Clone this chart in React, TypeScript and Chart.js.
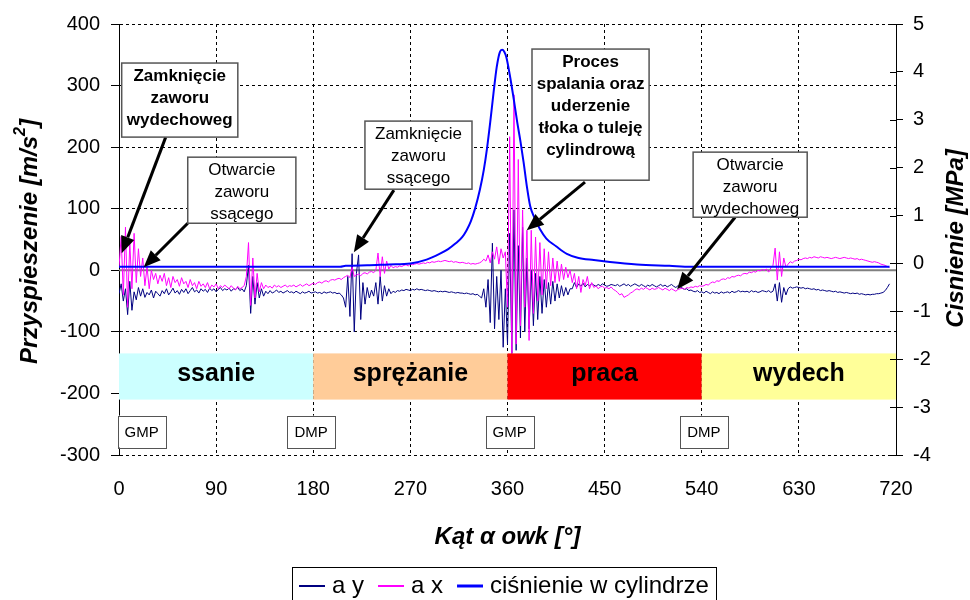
import React, { useEffect, useRef } from 'react';
import { Chart, registerables } from 'chart.js';

Chart.register(...registerables);

const FONT = "'Liberation Sans', Arial, Helvetica, sans-serif";

// ---------- data ----------
const ANGLE_STEP = 2; // degrees between samples of the acceleration series
const X_TICKS = [0, 90, 180, 270, 360, 450, 540, 630, 720];
const ACC_TICKS = [-300, -200, -100, 0, 100, 200, 300, 400];
const PRESS_TICKS = [-4, -3, -2, -1, 0, 1, 2, 3, 4, 5];

// a y [m/s2], samples from 0 deg every 2 deg
const AY_VALUES = [
  -38, -22, -50, -30, -72, -18, -65, -35, -48, -28,
  -42, -30, -44, -36, -40, -32, -45, -34, -38, -42,
  -33, -38, -30, -40, -35, -29, -37, -33, -39, -31,
  -36, -30, -38, -33, -28, -35, -32, -37, -30, -34,
  -31, -36, -29, -33, -30, -35, -31, -28, -33, -30,
  -32, -29, -34, -30, -31, -28, -33, -30, -35, -25,
  8, -70, -10, -55, -20, -45, -30, -42, -34, -38,
  -33, -37, -35, -32, -36, -34, -37, -35, -33, -36,
  -35, -37, -34, -36, -38, -35, -37, -36, -34, -37,
  -36, -35, -37, -36, -38, -35, -37, -36, -35, -37,
  -36, -38, -37, -40, -45, -60, -10, -75, 27, -100,
  -5, 25, -80, -20, -55, -28, -45, -32, -42, -20,
  -55, -10, -50, -25, -42, -30, -38, -34, -36, -33,
  -34, -32, -33, -31, -32, -33, -31, -32, -30, -32,
  -31, -32, -33, -32, -33, -34, -33, -34, -35, -34,
  -35, -34, -35, -36, -35, -36, -37, -36, -37, -37,
  -38, -37, -38, -39, -38, -40, -39, -42, -45, -30,
  -60, -15, -85, 44, -95, -10, -80, 0, -125, -30,
  -120, 60, -135, 98, -130, 40, -110, 70, -100, 20,
  -95, 0, -90, -5, -80, -10, -70, -15, -60, -20,
  -55, -18, -50, -22, -45, -25, -42, -28, -40, -30,
  -30, -20, -28, -22, -26, -21, -27, -23, -25, -22,
  -24, -26, -23, -25, -22, -24, -26, -25, -23, -24,
  -25, -23, -26, -24, -22, -25, -23, -26, -24, -22,
  -24, -26, -23, -25, -27, -24, -26, -23, -25, -27,
  -25, -23, -26, -24, -27, -25, -23, -26, -28, -25,
  -27, -29, -31, -30, -33, -32, -34, -35, -33, -36,
  -35, -37, -34, -36, -38, -35, -37, -36, -38, -35,
  -37, -36, -35, -37, -34, -36, -35, -33, -35, -34,
  -35, -34, -36, -33, -35, -34, -36, -35, -33, -34,
  -35, -33, -36, -34, -22, -50, -20, -52, -28, -40,
  -30, -27, -29, -28, -27, -28, -29, -28, -30, -29,
  -30, -31, -30, -32, -31, -33, -32, -33, -34, -33,
  -34, -35, -34, -36, -35, -36, -37, -36, -37, -38,
  -37, -38, -37, -39, -38, -39, -40, -39, -40, -39,
  -39, -38, -38, -37, -36, -33, -28, -22,
];

// a x [m/s2], samples from 0 deg every 2 deg
const AX_VALUES = [
  5, 55, -40, 70, -60, 45, -30, 60, -20, 35,
  -10, 20, -25, 5, -30, 0, -15, -5, -22, -8,
  -18, -5, -25, -12, -28, -10, -20, -15, -26, -12,
  -22, -18, -28, -15, -25, -20, -30, -18, -26, -22,
  -28, -20, -30, -24, -27, -22, -30, -25, -28, -24,
  -27, -30, -25, -29, -32, -26, -30, -28, -25, -10,
  45, -57, 20, -45, -5, -35, -20, -30, -24, -28,
  -26, -29, -24, -27, -25, -28, -26, -24, -27, -25,
  -26, -24, -27, -25, -23, -26, -24, -22, -25, -23,
  -21, -23, -20, -19, -21, -18, -17, -19, -16, -15,
  -16, -14, -13, -15, -12, -10, -8, -12, 5, -10,
  -8, -6, -9, -5, -4, -6, -3, -2, -4, 0,
  28, -10, 22, -5, 15, 2, 8, 4, 6, 5,
  7, 6, 8, 9, 7, 10, 9, 10, 11, 10,
  11, 12, 11, 13, 12, 14, 13, 14, 15, 14,
  15, 16, 15, 14, 15, 13, 14, 13, 12, 13,
  12, 11, 12, 10, 11, 10, 11, 12, 14, 18,
  15, 25, 12, 30, 18, 38, 10, 35, 20, 30,
  -60, 217, -135, 285, -120, 180, -90, 98, -60, 65,
  -114, 65, -70, 54, -50, 45, -40, 35, -30, 30,
  -25, 20, -20, 15, -18, 10, -15, 5, -12, 0,
  -20, -5, -30, -10, -36, -15, -25, -10, -30, -20,
  -28, -25, -30, -27, -26, -29, -28, -30, -27, -31,
  -33, -36, -40, -38, -44, -42, -40, -37, -35, -32,
  -30, -32, -29, -31, -28, -30, -32, -29, -31, -30,
  -28, -30, -32, -29, -31, -33, -30, -32, -34, -31,
  -30, -29, -31, -28, -29, -27, -28, -26, -27, -25,
  -26, -25, -23, -24, -21, -19, -20, -17, -18, -15,
  -14, -15, -12, -13, -10, -11, -9, -8, -9, -6,
  -5, -6, -3, -4, -2, -3, 0, -1, 1, 0,
  2, -3, 4, 8, 36, -16, 30, -10, 20, 5,
  10, 14, 12, 15, 16, 18, 17, 19, 20, 19,
  21, 20, 22, 21, 20, 22, 21, 20, 21, 20,
  19, 20, 21, 20, 19, 20, 21, 20, 19, 20,
  19, 18, 19, 17, 18, 17, 16, 15, 14, 13,
  14, 13, 12, 10, 9, 8, 6, 5,
];

// cylinder pressure [MPa]
const PRESSURE_ANGLES = [
  0, 100, 205, 210, 230, 250, 270, 285, 297, 305, 312, 318, 322, 326, 330, 334.5, 338, 341, 344, 347,
  350, 353, 355, 357, 359, 362, 366, 369, 372, 375, 378, 381, 385, 390, 396, 405, 415, 425, 440, 455,
  480, 510, 530, 600, 714,
];
const PRESSURE_VALUES = [
  -0.07, -0.07, -0.07, -0.05, -0.04, -0.02, 0.0, 0.08, 0.2, 0.3, 0.42, 0.55, 0.69, 0.88, 1.15, 1.55, 1.95, 2.4, 2.95, 3.55,
  4.1, 4.42, 4.46, 4.42, 4.3, 3.95, 3.4, 2.95, 2.55, 2.1, 1.6, 1.2, 0.95, 0.72, 0.52, 0.36, 0.2, 0.12, 0.07, 0.03,
  -0.02, -0.05, -0.07, -0.07, -0.07,
];

const SERIES_LABELS = ['a y', 'a x', 'ciśnienie w cylindrze'];

const PHASE_NAMES = ['ssanie', 'sprężanie', 'praca', 'wydech'];
const PHASE_BOUNDS = [0, 180, 360, 540, 720];

const DEAD_CENTRE_NAMES = ['GMP', 'DMP', 'GMP', 'DMP'];

const NOTE_TEXTS = [
  ['Zamknięcie', 'zaworu', 'wydechoweg'],
  ['Otwarcie', 'zaworu', 'ssącego'],
  ['Zamknięcie', 'zaworu', 'ssącego'],
  ['Proces', 'spalania oraz', 'uderzenie', 'tłoka o tuleję', 'cylindrową'],
  ['Otwarcie', 'zaworu', 'wydechoweg'],
];
// what each arrow points at (angle deg, acceleration m/s2)
const NOTE_TARGET_ANGLES = [2.5, 22.9, 217.6, 377.8, 517.2];
const NOTE_TARGET_VALUES = [27.6, 4.9, 29.3, 65, -30.9];

// ---------- styles / layout ----------
const SERIES_COLORS = ['#000080', '#FF00FF', '#0000FF'];
const SERIES_WIDTHS = [1, 1, 2];
const PHASE_COLORS = ['#CCFFFF', '#FFCC99', '#FF0000', '#FFFF99'];
const BAND_LAYOUT = { top: -135, bottom: -210 };
const DEAD_CENTRE_LAYOUT = { centers: [21, 178, 362, 542], width: 48, top: -236, bottom: -288 };
// boxes in data coordinates: [leftAngle, rightAngle, topValue, bottomValue, tailAngle, tailValue, bold]
const NOTE_LAYOUT = [
  [2.5, 110.1, 336.6, 216.3, 43.3, 216.3, true],
  [63.7, 163.9, 183.7, 76.4, 63.7, 76.4, false],
  [227.9, 327.1, 242.3, 131.7, 254.7, 130.1, false],
  [382.7, 491.2, 359.3, 146.3, 431.8, 143.1, true],
  [532.0, 637.7, 191.9, 86.2, 570.9, 86.2, false],
];

function drawArrow(ctx: CanvasRenderingContext2D, x1: number, y1: number, x2: number, y2: number) {
  const ang = Math.atan2(y2 - y1, x2 - x1);
  const head = 17;
  const half = 7;
  const bx = x2 - head * Math.cos(ang);
  const by = y2 - head * Math.sin(ang);
  ctx.strokeStyle = '#000';
  ctx.lineWidth = 3;
  ctx.beginPath();
  ctx.moveTo(x1, y1);
  ctx.lineTo(bx, by);
  ctx.stroke();
  ctx.fillStyle = '#000';
  ctx.beginPath();
  ctx.moveTo(x2, y2);
  ctx.lineTo(bx + half * Math.sin(ang), by - half * Math.cos(ang));
  ctx.lineTo(bx - half * Math.sin(ang), by + half * Math.cos(ang));
  ctx.closePath();
  ctx.fill();
}

const overlayPlugin = {
  id: 'overlay',
  beforeDatasetsDraw(chart: any) {
    const { ctx, chartArea, scales } = chart;
    const y0 = scales.y.getPixelForValue(0);
    ctx.save();
    ctx.strokeStyle = '#808080';
    ctx.lineWidth = 2;
    ctx.beginPath();
    ctx.moveTo(chartArea.left, y0);
    ctx.lineTo(chartArea.right, y0);
    ctx.stroke();
    ctx.restore();
  },
  afterDatasetsDraw(chart: any) {
    const { ctx, chartArea, scales } = chart;
    const px = (a: number) => scales.x.getPixelForValue(a);
    const py = (v: number) => scales.y.getPixelForValue(v);
    ctx.save();

    // phase bands
    const bt = py(BAND_LAYOUT.top);
    const bb = py(BAND_LAYOUT.bottom);
    PHASE_NAMES.forEach((name, i) => {
      const l = px(PHASE_BOUNDS[i]);
      const r = px(PHASE_BOUNDS[i + 1]);
      ctx.fillStyle = PHASE_COLORS[i];
      ctx.fillRect(l, bt, r - l, bb - bt);
      ctx.fillStyle = '#000';
      ctx.font = `bold 25px ${FONT}`;
      ctx.textAlign = 'center';
      ctx.textBaseline = 'middle';
      ctx.fillText(name, (l + r) / 2, (bt + bb) / 2 - 2);
    });

    // dead-centre boxes
    const dt = py(DEAD_CENTRE_LAYOUT.top);
    const db = py(DEAD_CENTRE_LAYOUT.bottom);
    DEAD_CENTRE_NAMES.forEach((name, i) => {
      const cx = px(DEAD_CENTRE_LAYOUT.centers[i]);
      const w = DEAD_CENTRE_LAYOUT.width;
      ctx.fillStyle = '#fff';
      ctx.fillRect(cx - w / 2, dt, w, db - dt);
      ctx.strokeStyle = '#555';
      ctx.lineWidth = 1;
      ctx.strokeRect(Math.round(cx - w / 2) + 0.5, Math.round(dt) + 0.5, w, Math.round(db - dt));
      ctx.fillStyle = '#000';
      ctx.font = `15px ${FONT}`;
      ctx.textAlign = 'center';
      ctx.textBaseline = 'middle';
      ctx.fillText(name, cx, (dt + db) / 2 + 1);
    });

    // annotations
    NOTE_TEXTS.forEach((lines, i) => {
      const [la, ra, tv, bv, ta, tv2, bold] = NOTE_LAYOUT[i] as any[];
      const l = px(la), r = px(ra), t = py(tv), b = py(bv);
      drawArrow(ctx, px(ta), py(tv2), px(NOTE_TARGET_ANGLES[i]), py(NOTE_TARGET_VALUES[i]));
      ctx.fillStyle = '#fff';
      ctx.fillRect(l, t, r - l, b - t);
      ctx.strokeStyle = '#555';
      ctx.lineWidth = 1.5;
      ctx.strokeRect(l, t, r - l, b - t);
      ctx.fillStyle = '#000';
      ctx.font = `${bold ? 'bold ' : ''}17px ${FONT}`;
      ctx.textAlign = 'center';
      ctx.textBaseline = 'middle';
      lines.forEach((line, k) => ctx.fillText(line, (l + r) / 2, t + 13 + k * 22));
    });
    ctx.restore();
  },
  afterDraw(chart: any) {
    const { ctx, chartArea, scales } = chart;
    ctx.save();
    // inner tick marks on right axis
    ctx.strokeStyle = '#000';
    ctx.lineWidth = 1;
    PRESS_TICKS.forEach((v) => {
      const y = Math.round(scales.y2.getPixelForValue(v)) + 0.5;
      ctx.beginPath();
      ctx.moveTo(chartArea.right - 6, y);
      ctx.lineTo(chartArea.right, y);
      ctx.stroke();
    });

    // left axis title with superscript
    ctx.fillStyle = '#000';
    ctx.textBaseline = 'middle';
    ctx.textAlign = 'left';
    const big = `italic bold 24px ${FONT}`;
    const small = `italic bold 16px ${FONT}`;
    const p1 = 'Przyspieszenie [m/s';
    const p2 = '2';
    const p3 = ']';
    ctx.font = big;
    const w1 = ctx.measureText(p1).width;
    const w3 = ctx.measureText(p3).width;
    ctx.font = small;
    const w2 = ctx.measureText(p2).width;
    const total = w1 + w2 + w3;
    ctx.save();
    ctx.translate(30, (chartArea.top + chartArea.bottom) / 2 + 2);
    ctx.rotate(-Math.PI / 2);
    let x = -total / 2;
    ctx.font = big;
    ctx.fillText(p1, x, 0);
    x += w1;
    ctx.font = small;
    ctx.fillText(p2, x, -9);
    x += w2;
    ctx.font = big;
    ctx.fillText(p3, x, 0);
    ctx.restore();

    // right axis title
    ctx.save();
    ctx.translate(956, (chartArea.top + chartArea.bottom) / 2 - 1);
    ctx.rotate(-Math.PI / 2);
    ctx.font = big;
    ctx.textAlign = 'center';
    ctx.fillText('Cisnienie [MPa]', 0, 0);
    ctx.restore();

    // legend
    const lineLen = 26, gap = 7, itemGap = 14, pad = 7;
    ctx.font = `24px ${FONT}`;
    const widths = SERIES_LABELS.map((s) => ctx.measureText(s).width);
    const inner = widths.reduce((a, w) => a + lineLen + gap + w, 0) + itemGap * (SERIES_LABELS.length - 1);
    const boxW = inner + pad * 2;
    const cx = (chartArea.left + chartArea.right) / 2 - 4;
    const left = Math.round(cx - boxW / 2);
    const top = 567;
    ctx.fillStyle = '#fff';
    ctx.fillRect(left, top, boxW, 40);
    ctx.strokeStyle = '#000';
    ctx.lineWidth = 1;
    ctx.strokeRect(left + 0.5, top + 0.5, Math.round(boxW), 40);
    let lx = left + pad;
    const ly = 586;
    SERIES_LABELS.forEach((s, i) => {
      ctx.strokeStyle = SERIES_COLORS[i];
      ctx.lineWidth = SERIES_WIDTHS[i] + 1;
      ctx.beginPath();
      ctx.moveTo(lx, ly);
      ctx.lineTo(lx + lineLen, ly);
      ctx.stroke();
      lx += lineLen + gap;
      ctx.fillStyle = '#000';
      ctx.textAlign = 'left';
      ctx.textBaseline = 'middle';
      ctx.fillText(s, lx, ly);
      lx += widths[i] + itemGap;
    });
    ctx.restore();
  },
};

export default function App() {
  const canvasRef = useRef<HTMLCanvasElement>(null);

  useEffect(() => {
    document.body.style.margin = '0';
    const canvas = canvasRef.current;
    if (!canvas) return;
    const accPoints = (vals: number[]) => vals.map((v, i) => ({ x: i * ANGLE_STEP, y: v }));
    const pressPoints = PRESSURE_ANGLES.map((a, i) => ({ x: a, y: PRESSURE_VALUES[i] }));
    const tickFont = { family: FONT, size: 20 };

    const chart = new Chart(canvas, {
      type: 'line',
      data: {
        datasets: [
          {
            label: SERIES_LABELS[0],
            data: accPoints(AY_VALUES),
            borderColor: SERIES_COLORS[0],
            borderWidth: SERIES_WIDTHS[0],
            pointRadius: 0,
            yAxisID: 'y',
            order: 2,
          },
          {
            label: SERIES_LABELS[1],
            data: accPoints(AX_VALUES),
            borderColor: SERIES_COLORS[1],
            borderWidth: SERIES_WIDTHS[1],
            pointRadius: 0,
            yAxisID: 'y',
            order: 1,
          },
          {
            label: SERIES_LABELS[2],
            data: pressPoints,
            borderColor: SERIES_COLORS[2],
            borderWidth: SERIES_WIDTHS[2],
            pointRadius: 0,
            yAxisID: 'y2',
            cubicInterpolationMode: 'monotone',
            order: 0,
          },
        ],
      },
      options: {
        animation: false,
        responsive: true,
        maintainAspectRatio: false,
        layout: { padding: { top: 24, bottom: 35, left: 0, right: 0 } },
        plugins: { legend: { display: false }, tooltip: { enabled: false } },
        scales: {
          x: {
            type: 'linear',
            position: 'bottom',
            min: 0,
            max: 720,
            afterBuildTicks: (s: any) => {
              s.ticks = X_TICKS.map((value) => ({ value }));
            },
            ticks: { color: '#000', font: tickFont, padding: 22, maxRotation: 0, autoSkip: false },
            grid: { color: '#000', lineWidth: 1, drawTicks: false },
            border: { display: false, dash: [3, 3] },
            title: {
              display: true,
              text: 'Kąt α owk [°]',
              color: '#000',
              font: { family: FONT, size: 24, style: 'italic', weight: 'bold' },
              padding: { top: 0, bottom: 13 },
            },
            afterFit: (s: any) => {
              s.height = 110;
            },
          },
          y: {
            type: 'linear',
            position: 'left',
            min: -300,
            max: 400,
            afterBuildTicks: (s: any) => {
              s.ticks = ACC_TICKS.map((value) => ({ value }));
            },
            ticks: { color: '#000', font: tickFont, padding: 11 },
            grid: { color: '#000', lineWidth: 1, tickLength: 8, tickColor: '#000', tickBorderDash: [] },
            border: { display: true, color: '#000', width: 1, dash: [3, 3] },
            afterFit: (s: any) => {
              s.width = 119;
            },
          },
          y2: {
            type: 'linear',
            position: 'right',
            min: -4,
            max: 5,
            afterBuildTicks: (s: any) => {
              s.ticks = PRESS_TICKS.map((value) => ({ value }));
            },
            ticks: { color: '#000', font: tickFont, padding: 10 },
            grid: { drawOnChartArea: false, color: '#000', tickLength: 7 },
            border: { display: true, color: '#000', width: 1 },
            afterFit: (s: any) => {
              s.width = 74;
            },
          },
        },
      },
      plugins: [overlayPlugin],
    } as any);

    return () => chart.destroy();
  }, []);

  return (
    <div style={{ width: 970, height: 600, position: 'relative', background: '#fff' }}>
      <canvas ref={canvasRef} />
    </div>
  );
}
